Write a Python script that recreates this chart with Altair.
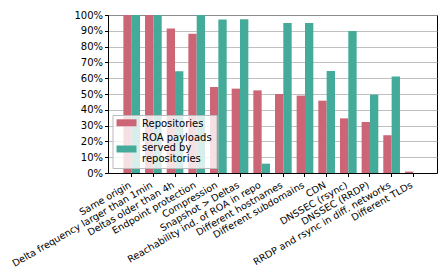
import altair as alt
import pandas as pd

categories = [
    "Same origin",
    "Delta frequency larger than 1min",
    "Deltas older than 4h",
    "Endpoint protection",
    "Compression",
    "Snapshot > Deltas",
    "Reachability ind. of ROA in repo",
    "Different hostnames",
    "Different subdomains",
    "CDN",
    "DNSSEC (rsync)",
    "DNSSEC (RRDP)",
    "RRDP and rsync in diff. networks",
    "Different TLDs",
]
repositories = [100, 100, 91.4, 88.2, 54.4, 53.4, 52.3, 50.0, 49.0, 45.8, 34.6, 32.3, 23.9, 0.9]
roa_payloads = [100, 100, 64.4, 100, 97.1, 97.3, 5.9, 94.9, 94.9, 64.6, 89.9, 49.6, 61.0, 0.0]
series_names = ["Repositories", "ROA payloads\nserved by\nrepositories"]
series_colors = ["#CC6677", "#44AA99"]
y_ticks = [0, 0.1, 0.2, 0.3, 0.4, 0.5, 0.6, 0.7, 0.8, 0.9, 1.0]

rows = []
for cat, r, p in zip(categories, repositories, roa_payloads):
    rows.append({"category": cat, "series": series_names[0], "value": r / 100})
    rows.append({"category": cat, "series": series_names[1], "value": p / 100})
df = pd.DataFrame(rows)
legend_df = pd.DataFrame({"series": series_names})

FONT = "DejaVu Sans"
color_scale = alt.Scale(domain=series_names, range=series_colors)

bars = alt.Chart(df).mark_bar().encode(
    x=alt.X(
        "category:N",
        sort=categories,
        scale=alt.Scale(paddingInner=0.23, paddingOuter=0.71),
        axis=alt.Axis(
            title=None,
            labelAngle=-30,
            labelAlign="right",
            labelBaseline="top",
            labelOffset=-4,
            labelPadding=3,
            labelFontSize=9.6,
            labelLimit=400,
            grid=False,
        ),
    ),
    xOffset=alt.XOffset("series:N", sort=series_names),
    y=alt.Y(
        "value:Q",
        scale=alt.Scale(domain=[0, 1]),
        axis=alt.Axis(title=None, format=".0%", values=y_ticks, labelFontSize=10, grid=True),
    ),
    color=alt.Color("series:N", sort=series_names, scale=color_scale, legend=None),
)

# hand-drawn legend (matplotlib style, bottom-left inside the axes)
first_entry = alt.Chart(legend_df).transform_filter(alt.datum.series == series_names[0])
leg_fill = first_entry.mark_rect(color="white", opacity=0.8).encode(
    x=alt.value(5), x2=alt.value(109), y=alt.value(100.5), y2=alt.value(153.5),
)
leg_border = first_entry.mark_rect(filled=False, color="#bbbbbb", strokeWidth=1).encode(
    x=alt.value(5), x2=alt.value(109), y=alt.value(100.5), y2=alt.value(153.5),
)

patch_y = [107.8, 134.0]
text_y = [109.0, 122.6]
layers = [bars, leg_fill, leg_border]
for name, py, ty in zip(series_names, patch_y, text_y):
    sel = alt.Chart(legend_df).transform_filter(alt.datum.series == name)
    layers.append(
        sel.mark_rect().encode(
            x=alt.value(8.5), x2=alt.value(28.5),
            y=alt.value(py - 3.5), y2=alt.value(py + 3.5),
            color=alt.Color("series:N", scale=color_scale, legend=None),
        )
    )
    layers.append(
        sel.mark_text(
            align="left", baseline="middle", lineBreak="\n", lineHeight=10.5,
            font=FONT, fontSize=10, color="black",
        ).encode(x=alt.value(34), y=alt.value(ty), text="series:N")
    )

chart = alt.layer(*layers).properties(
    width=329,
    height=158,
    autosize=alt.AutoSizeParams(type="none"),
    padding={"left": 100, "top": 7, "right": 3, "bottom": 95},
).configure(
    view={"stroke": "black", "strokeWidth": 1},
    axis={
        "domainColor": "black",
        "tickColor": "black",
        "tickSize": 3.5,
        "labelColor": "black",
        "labelFont": FONT,
        "gridColor": "#b0b0b0",
        "gridWidth": 0.8,
    },
)

chart.save("out.html", embed_options={"renderer": "svg", "actions": False})
